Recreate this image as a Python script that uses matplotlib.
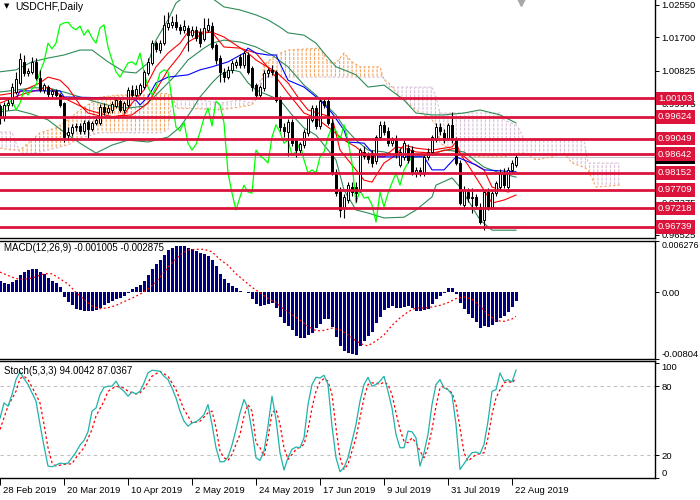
import matplotlib
matplotlib.use("Agg")
import matplotlib.pyplot as plt
import matplotlib.transforms as mtransforms
import numpy as np

plt.rcParams['font.family'] = ['Liberation Sans', 'DejaVu Sans']
plt.rcParams['hatch.linewidth'] = 0.8

# ---- dane: swiece USDCHF D1 (indeks slupka 0..129) ----
opens = [
    0.9990, 0.9959, 0.9993, 0.9998, 1.0027, 1.0050, 1.0106, 1.0077, 1.0080, 1.0106,
    1.0064, 1.0032, 1.0040, 1.0022, 1.0030, 1.0019, 0.9998, 0.9914, 0.9920, 0.9935,
    0.9938, 0.9925, 0.9948, 0.9930, 0.9946, 0.9946, 0.9988, 0.9975, 0.9980, 0.9990,
    1.0003, 0.9980, 0.9993, 1.0032, 1.0019, 1.0024, 1.0040, 1.0077, 1.0103, 1.0155,
    1.0137, 1.0155, 1.0197, 1.0203, 1.0210, 1.0197, 1.0190, 1.0195, 1.0176, 1.0190,
    1.0184, 1.0165, 1.0190, 1.0200, 1.0150, 1.0116, 1.0080, 1.0066, 1.0085, 1.0098,
    1.0119, 1.0098, 1.0124, 1.0090, 1.0045, 1.0019, 1.0038, 1.0077, 1.0085, 1.0080,
    1.0011, 0.9935, 0.9922, 0.9948, 0.9900, 0.9875, 0.9888, 0.9920, 0.9954, 0.9985,
    0.9938, 1.0003, 1.0003, 0.9946, 0.9818, 0.9770, 0.9723, 0.9744, 0.9778, 0.9778,
    0.9770, 0.9870, 0.9862, 0.9867, 0.9845, 0.9909, 0.9941, 0.9925, 0.9893, 0.9901,
    0.9836, 0.9857, 0.9880, 0.9875, 0.9815, 0.9823, 0.9815, 0.9857, 0.9870, 0.9901,
    0.9935, 0.9920, 0.9906, 0.9941, 0.9901, 0.9841, 0.9731, 0.9765, 0.9749, 0.9752,
    0.9726, 0.9692, 0.9765, 0.9726, 0.9762, 0.9778, 0.9815, 0.9778, 0.9823, 0.9836,
]
highs = [
    0.9996, 1.0001, 1.0011, 1.0050, 1.0080, 1.0130, 1.0124, 1.0090, 1.0119, 1.0116,
    1.0085, 1.0050, 1.0045, 1.0035, 1.0035, 1.0024, 1.0001, 0.9935, 0.9943, 0.9946,
    0.9946, 0.9954, 0.9954, 0.9951, 0.9959, 0.9996, 0.9998, 0.9993, 1.0003, 1.0014,
    1.0011, 1.0003, 1.0040, 1.0045, 1.0045, 1.0050, 1.0085, 1.0116, 1.0163, 1.0160,
    1.0163, 1.0229, 1.0237, 1.0225, 1.0232, 1.0205, 1.0215, 1.0203, 1.0200, 1.0200,
    1.0195, 1.0220, 1.0220, 1.0210, 1.0155, 1.0124, 1.0090, 1.0095, 1.0110, 1.0114,
    1.0127, 1.0135, 1.0132, 1.0095, 1.0050, 1.0045, 1.0085, 1.0090, 1.0098, 1.0085,
    1.0016, 0.9945, 0.9956, 0.9956, 0.9905, 0.9896, 0.9930, 0.9965, 0.9993, 0.9993,
    1.0014, 1.0011, 1.0014, 0.9955, 0.9825, 0.9778, 0.9760, 0.9790, 0.9790, 0.9790,
    0.9880, 0.9885, 0.9870, 0.9875, 0.9914, 0.9950, 0.9950, 0.9935, 0.9910, 0.9915,
    0.9880, 0.9900, 0.9890, 0.9885, 0.9830, 0.9830, 0.9865, 0.9880, 0.9915, 0.9946,
    0.9945, 0.9930, 0.9946, 0.9975, 0.9910, 0.9850, 0.9780, 0.9775, 0.9775, 0.9760,
    0.9735, 0.9770, 0.9775, 0.9770, 0.9795, 0.9825, 0.9828, 0.9830, 0.9850, 0.9865,
]
lows = [
    0.9943, 0.9952, 0.9980, 0.9990, 1.0022, 1.0045, 1.0070, 1.0070, 1.0075, 1.0058,
    1.0027, 1.0024, 1.0014, 1.0014, 1.0011, 0.9988, 0.9896, 0.9900, 0.9912, 0.9925,
    0.9917, 0.9917, 0.9906, 0.9925, 0.9941, 0.9941, 0.9967, 0.9970, 0.9972, 0.9985,
    0.9975, 0.9972, 0.9988, 1.0011, 1.0011, 1.0019, 1.0035, 1.0072, 1.0098, 1.0132,
    1.0129, 1.0150, 1.0190, 1.0195, 1.0190, 1.0180, 1.0182, 1.0135, 1.0170, 1.0160,
    1.0145, 1.0160, 1.0185, 1.0140, 1.0100, 1.0053, 1.0053, 1.0060, 1.0077, 1.0090,
    1.0090, 1.0090, 1.0074, 1.0030, 1.0008, 1.0011, 1.0030, 1.0066, 1.0072, 1.0000,
    0.9925, 0.9910, 0.9860, 0.9885, 0.9857, 0.9868, 0.9880, 0.9912, 0.9948, 0.9930,
    0.9930, 0.9985, 0.9940, 0.9810, 0.9755, 0.9700, 0.9697, 0.9736, 0.9755, 0.9740,
    0.9765, 0.9852, 0.9840, 0.9830, 0.9838, 0.9900, 0.9915, 0.9885, 0.9885, 0.9855,
    0.9830, 0.9850, 0.9840, 0.9810, 0.9805, 0.9808, 0.9808, 0.9850, 0.9862, 0.9895,
    0.9915, 0.9893, 0.9900, 0.9893, 0.9835, 0.9730, 0.9720, 0.9740, 0.9710, 0.9720,
    0.9680, 0.9665, 0.9718, 0.9720, 0.9755, 0.9770, 0.9775, 0.9770, 0.9815, 0.9830,
]
closes = [
    0.9959, 0.9993, 0.9998, 1.0040, 1.0060, 1.0114, 1.0077, 1.0082, 1.0106, 1.0064,
    1.0032, 1.0045, 1.0022, 1.0030, 1.0019, 0.9993, 0.9909, 0.9922, 0.9935, 0.9938,
    0.9925, 0.9946, 0.9930, 0.9946, 0.9954, 0.9988, 0.9975, 0.9985, 0.9996, 1.0006,
    0.9980, 0.9998, 1.0032, 1.0019, 1.0035, 1.0045, 1.0080, 1.0106, 1.0155, 1.0140,
    1.0155, 1.0203, 1.0208, 1.0210, 1.0197, 1.0190, 1.0200, 1.0176, 1.0190, 1.0169,
    1.0155, 1.0195, 1.0203, 1.0145, 1.0111, 1.0080, 1.0066, 1.0085, 1.0103, 1.0106,
    1.0098, 1.0129, 1.0080, 1.0040, 1.0019, 1.0040, 1.0077, 1.0085, 1.0080, 1.0006,
    0.9935, 0.9925, 0.9948, 0.9893, 0.9875, 0.9890, 0.9922, 0.9959, 0.9985, 0.9938,
    1.0003, 0.9993, 0.9946, 0.9815, 0.9762, 0.9718, 0.9752, 0.9783, 0.9765, 0.9762,
    0.9875, 0.9860, 0.9852, 0.9841, 0.9909, 0.9941, 0.9922, 0.9893, 0.9901, 0.9862,
    0.9870, 0.9893, 0.9849, 0.9815, 0.9823, 0.9815, 0.9857, 0.9870, 0.9909, 0.9935,
    0.9925, 0.9901, 0.9941, 0.9901, 0.9841, 0.9736, 0.9770, 0.9749, 0.9752, 0.9731,
    0.9686, 0.9765, 0.9726, 0.9762, 0.9789, 0.9815, 0.9783, 0.9823, 0.9841, 0.9857,
]

# wstegi Bollingera
bbUpperBars = [0, 4, 8, 12, 16, 20, 23, 27, 31, 34, 37, 39, 42, 44, 46, 50, 53, 56, 60, 64,
               67, 70, 72, 76, 79, 81, 84, 86, 89, 92, 96, 101, 104, 108, 111, 116, 120, 125, 129]
bbUpper = [1.0080, 1.0085, 1.0106, 1.0116, 1.0124, 1.0137, 1.0137, 1.0106, 1.0080, 1.0077,
           1.0103, 1.0163, 1.0216, 1.0260, 1.0276, 1.0281, 1.0273, 1.0250, 1.0242, 1.0229,
           1.0216, 1.0197, 1.0182, 1.0176, 1.0155, 1.0129, 1.0093, 1.0085, 1.0072, 1.0040,
           1.0045, 1.0006, 0.9972, 0.9967, 0.9967, 0.9972, 0.9980, 0.9967, 0.9946]
bbMiddleBars = [0, 4, 8, 12, 16, 20, 24, 28, 32, 36, 39, 44, 47, 51, 53, 56, 60, 64, 68, 72,
                76, 79, 81, 84, 86, 89, 92, 96, 101, 104, 108, 111, 116, 121, 125, 129]
bbMiddle = [1.0027, 1.0032, 1.0038, 1.0038, 1.0027, 1.0014, 1.0001, 0.9990, 0.9985, 0.9990,
            1.0019, 1.0072, 1.0111, 1.0142, 1.0155, 1.0163, 1.0158, 1.0145, 1.0124, 1.0093,
            1.0045, 1.0019, 0.9998, 0.9967, 0.9935, 0.9901, 0.9875, 0.9870, 0.9857, 0.9857,
            0.9862, 0.9875, 0.9870, 0.9830, 0.9815, 0.9804]
bbLowerBars = [0, 4, 8, 12, 16, 20, 24, 28, 32, 37, 42, 45, 48, 50, 53, 55, 58, 60, 62, 64,
               67, 70, 73, 76, 79, 81, 84, 86, 89, 92, 96, 101, 104, 108, 109, 113, 115, 120, 123, 129]
bbLower = [0.9975, 0.9980, 0.9969, 0.9954, 0.9922, 0.9893, 0.9867, 0.9888, 0.9901, 0.9896,
           0.9909, 0.9935, 0.9980, 1.0014, 1.0051, 1.0072, 1.0085, 1.0080, 1.0051, 1.0032,
           1.0019, 1.0006, 0.9967, 0.9933, 0.9914, 0.9888, 0.9849, 0.9770, 0.9718, 0.9710,
           0.9697, 0.9699, 0.9718, 0.9752, 0.9783, 0.9802, 0.9778, 0.9692, 0.9665, 0.9665]

# Ichimoku: Tenkan / druga czerwona / Kijun
redFastBars = [0, 5, 10, 12, 15, 17, 20, 22, 27, 31, 33, 36, 39, 42, 45, 47, 53, 56, 59, 62,
               64, 66, 69, 72, 75, 77, 81, 83, 85, 88, 91, 93, 96, 99, 101, 104, 108, 113, 114, 115,
               118, 121, 123, 127, 129]
redFast = [1.0019, 1.0027, 1.0051, 1.0066, 1.0058, 1.0038, 0.9993, 0.9972, 0.9959, 0.9967,
           0.9998, 1.0032, 1.0093, 1.0129, 1.0155, 1.0184, 1.0184, 1.0171, 1.0150, 1.0129,
           1.0111, 1.0098, 1.0080, 1.0051, 1.0006, 0.9980, 0.9967, 0.9962, 0.9875, 0.9836,
           0.9796, 0.9791, 0.9841, 0.9862, 0.9888, 0.9880, 0.9875, 0.9883, 0.9896, 0.9867,
           0.9841, 0.9823, 0.9778, 0.9765, 0.9770]
redSlowBars = [0, 5, 12, 17, 22, 28, 33, 37, 39, 42, 45, 47, 51, 53, 56, 60, 64, 69, 72, 76,
               79, 83, 86, 89, 92, 96, 99, 101, 104, 108, 114, 117, 121, 123, 126, 129]
redSlow = [0.9998, 1.0019, 1.0040, 1.0006, 0.9980, 0.9962, 0.9967, 0.9998, 1.0032, 1.0085,
           1.0124, 1.0158, 1.0182, 1.0184, 1.0145, 1.0142, 1.0129, 1.0066, 1.0024, 0.9972,
           0.9959, 0.9927, 0.9901, 0.9883, 0.9857, 0.9857, 0.9883, 0.9880, 0.9870, 0.9867,
           0.9880, 0.9836, 0.9770, 0.9736, 0.9744, 0.9757]
kijunBars = [0, 4, 5, 15, 16, 31, 34, 35, 37, 39, 42, 47, 50, 53, 57, 61, 62, 64, 67, 69,
             72, 76, 80, 83, 86, 87, 91, 94, 106, 108, 111, 114, 116, 119, 121, 129]
kijun = [1.0009, 1.0009, 1.0030, 1.0030, 1.0014, 1.0011, 1.0006, 0.9993, 1.0014, 1.0051,
         1.0066, 1.0072, 1.0085, 1.0093, 1.0106, 1.0129, 1.0142, 1.0129, 1.0124, 1.0124,
         1.0058, 1.0040, 1.0006, 0.9972, 0.9927, 0.9896, 0.9893, 0.9857, 0.9857, 0.9823,
         0.9823, 0.9857, 0.9849, 0.9836, 0.9823, 0.9818]

# chmura (przesunieta o 26 slupkow do przodu)
cloudBars = [0, 3, 5, 8, 10, 14, 17, 20, 25, 30, 36, 40, 42, 43, 44, 50, 55, 60, 63, 65,
             66, 69, 72, 80, 82, 84, 86, 88, 90, 95, 96, 97, 100, 104, 108, 109, 110, 115, 121, 125,
             126, 129, 130, 131, 134, 138, 141, 143, 146, 147, 149, 155]
spanA = [0.9880, 0.9875, 0.9875, 0.9901, 0.9920, 0.9933, 0.9954, 0.9980, 1.0014, 1.0019,
         1.0019, 1.0024, 1.0022, 1.0019, 0.9985, 0.9983, 0.9980, 0.9988, 0.9993, 1.0024,
         1.0098, 1.0124, 1.0137, 1.0142, 1.0106, 1.0103, 1.0129, 1.0106, 1.0093, 1.0093,
         1.0058, 1.0053, 1.0014, 0.9980, 0.9954, 0.9941, 0.9893, 0.9862, 0.9857, 0.9857,
         0.9857, 0.9867, 0.9867, 0.9867, 0.9849, 0.9857, 0.9867, 0.9841, 0.9830, 0.9823,
         0.9778, 0.9783]
spanB = [0.9922, 0.9922, 0.9867, 0.9867, 0.9870, 0.9880, 0.9888, 0.9906, 0.9920, 0.9920,
         0.9920, 0.9920, 0.9927, 1.0006, 1.0006, 1.0006, 0.9998, 1.0006, 0.9998, 1.0058,
         1.0066, 1.0066, 1.0066, 1.0066, 1.0066, 1.0066, 1.0066, 1.0066, 1.0066, 1.0066,
         1.0066, 1.0040, 1.0040, 1.0040, 1.0040, 1.0014, 0.9972, 0.9972, 0.9972, 0.9972,
         0.9954, 0.9941, 0.9927, 0.9901, 0.9901, 0.9901, 0.9901, 0.9901, 0.9901, 0.9841,
         0.9841, 0.9841]

levels = [1.00103, 0.99624, 0.99049, 0.98642, 0.98152, 0.97709, 0.97218, 0.96739]
priceTicks = [1.02550, 1.01700, 1.00825, 0.99975, 0.99100, 0.98250, 0.97375, 0.96525]

# MACD(12,26,9)
macdMain = [
    0.00144, 0.00111, 0.00103, 0.00123, 0.00152, 0.00205, 0.00246, 0.00267, 0.00283, 0.00283,
    0.00246, 0.00226, 0.00172, 0.00144, 0.00111, 0.00062, -0.00049, -0.00115, -0.00156, -0.00197,
    -0.00217, -0.00226, -0.00230, -0.00226, -0.00209, -0.00185, -0.00156, -0.00127, -0.00103, -0.00078,
    -0.00062, -0.00045, -0.00008, 0.00041, 0.00062, 0.00090, 0.00144, 0.00205, 0.00279, 0.00340,
    0.00398, 0.00451, 0.00513, 0.00537, 0.00562, 0.00566, 0.00566, 0.00541, 0.00521, 0.00504,
    0.00480, 0.00463, 0.00439, 0.00398, 0.00320, 0.00226, 0.00160, 0.00115, 0.00074, 0.00049,
    0.00012, 0.00008, -0.00004, -0.00082, -0.00144, -0.00164, -0.00152, -0.00144, -0.00131, -0.00185,
    -0.00295, -0.00369, -0.00402, -0.00451, -0.00529, -0.00554, -0.00554, -0.00513, -0.00492, -0.00431,
    -0.00381, -0.00320, -0.00320, -0.00418, -0.00541, -0.00652, -0.00709, -0.00726, -0.00746, -0.00750,
    -0.00652, -0.00590, -0.00525, -0.00480, -0.00365, -0.00295, -0.00217, -0.00185, -0.00160, -0.00185,
    -0.00193, -0.00176, -0.00160, -0.00193, -0.00221, -0.00230, -0.00217, -0.00197, -0.00144, -0.00074,
    -0.00041, -0.00012, 0.00049, 0.00049, -0.00021, -0.00131, -0.00197, -0.00258, -0.00308, -0.00357,
    -0.00431, -0.00402, -0.00418, -0.00398, -0.00353, -0.00308, -0.00279, -0.00234, -0.00172, -0.00101,
]
macdSignalBars = [0, 3, 5, 8, 11, 13, 15, 17, 19, 21, 23, 25, 27, 29, 31, 33, 35, 37, 39, 41,
                  43, 45, 47, 49, 51, 53, 55, 57, 59, 61, 63, 65, 67, 69, 71, 73, 75, 77, 79, 81,
                  83, 85, 87, 89, 91, 92, 94, 96, 98, 100, 102, 104, 106, 108, 110, 112, 114, 116, 118, 120,
                  122, 124, 126, 128, 129]
macdSignal = [0.00246, 0.00185, 0.00156, 0.00172, 0.00226, 0.00226, 0.00164, 0.00103, 0.0, -0.00082,
              -0.00164, -0.00197, -0.00185, -0.00156, -0.00111, -0.00070, -0.00021, 0.00041, 0.00123, 0.00246,
              0.00357, 0.00451, 0.00513, 0.00521, 0.00521, 0.00492, 0.00398, 0.00328, 0.00226, 0.00144,
              0.00062, -0.00005, -0.00074, -0.00123, -0.00205, -0.00267, -0.00336, -0.00410, -0.00463, -0.00459,
              -0.00431, -0.00451, -0.00513, -0.00586, -0.00636, -0.00644, -0.00586, -0.00513, -0.00398, -0.00308,
              -0.00234, -0.00185, -0.00189, -0.00176, -0.00156, -0.00123, -0.00074, -0.00053, -0.00082, -0.00164,
              -0.00267, -0.00340, -0.00349, -0.00320, -0.00288]

# Stochastic(5,3,3)
stochMain = [
    52, 65.5, 62.6, 72.7, 85.8, 92.5, 86.7, 81.5, 74.2, 67,
    46.7, 27.8, 10.4, 9.8, 11.3, 13, 12.4, 13, 17.7, 22.6,
    28.7, 32.7, 40.3, 58.3, 61, 72.7, 79, 80, 80, 84.4,
    78.5, 75.6, 71.3, 75, 73.3, 75.6, 82.9, 91.6, 93.9, 93.6,
    93, 88.7, 85.8, 78.5, 69.8, 58.3, 49.5, 45.2, 48, 49,
    51.6, 55.3, 64, 46.7, 26.4, 14.2, 14.2, 18.2, 28.7, 42.3,
    56.8, 68.4, 61, 40.9, 17.7, 15.3, 23.5, 45.2, 71.3, 51,
    22, 7, 17.7, 25, 27, 26.4, 35, 64, 81.5, 87.8,
    87.2, 89.6, 81.5, 45.2, 17.7, 5.5, 9, 17.7, 32.2, 46.7,
    67, 81.5, 87.8, 80, 81.5, 84.4, 88.7, 75.6, 61, 38,
    26.4, 26.4, 40.9, 40.3, 35, 10.4, 22, 38, 64, 81.5,
    85.8, 78.5, 77, 72.7, 46.7, 7.5, 12.4, 17.7, 22, 22.6,
    21.1, 29.3, 49.5, 75.6, 77, 91.6, 84.4, 85.8, 83.8, 94.0,
]
stochSignalBars = [0, 2, 4, 5, 6, 7, 9, 10, 11, 12, 13, 14, 16, 18, 19, 21, 23, 24, 26, 27,
                   29, 31, 32, 34, 35, 36, 38, 40, 42, 43, 44, 46, 47, 48, 50, 52, 53, 54, 55, 56,
                   57, 58, 60, 61, 62, 63, 64] + list(range(65, 130))
stochSignal = [42.3, 62.6, 75.6, 86.7, 88.7, 85.8, 72.7, 65.5, 46.7, 26.4,
               13.3, 10.4, 11.9, 12.4, 17.7, 26.4, 42.3, 54, 67, 75.6,
               80, 78.5, 75.6, 73.3, 74.2, 78, 88.7, 93, 88.7, 82.9,
               77, 59.7, 54, 48, 49.5, 56.8, 58.3, 43.8, 23.5, 17.7,
               15.3, 20.5, 38, 54, 64, 58.3, 30.7,
               26.4, 19.1, 35, 56.8, 59.7, 46.7, 26.4, 16.2, 20.5, 25,
               27, 29.3, 42.3, 61, 75.6, 83.8, 86.7, 84.4, 72.7, 43.8,
               17.7, 7.5, 11.9, 23.5, 35, 52.5, 69.8, 81.5, 82.9, 82.9,
               81.5, 83.8, 81.5, 72.7, 56.8, 42.3, 32.2, 30.7, 35, 30.7,
               23.5, 17.7, 26.4, 42.3, 62.6, 78.5, 80, 77, 74.2, 64,
               43.8, 22, 14.8, 17.7, 20.5, 21.1, 22, 35, 55.3, 69.8,
               77, 82.9, 84.4, 82.9, 87]

dateBars = [0, 16, 32, 48, 64, 80, 96, 112, 128]
dateLabels = ["28 Feb 2019", "20 Mar 2019", "10 Apr 2019", "2 May 2019", "24 May 2019",
              "17 Jun 2019", "9 Jul 2019", "31 Jul 2019", "22 Aug 2019"]

# ---- rysowanie ----
W, H = 700, 500
rozmiar = 6.8
fig = plt.figure(figsize=(7, 5), dpi=100)


def okno(gora, dol):
    return [0, 1 - dol / H, 655 / W, (dol - gora) / H]


ax = fig.add_axes(okno(0, 238))
axMacd = fig.add_axes(okno(240.5, 359))
axSt = fig.add_axes(okno(361, 478))

for a in (ax, axMacd, axSt):
    a.set_xlim(0, 163.75)
    a.spines['top'].set_visible(a is not ax)
    a.spines['left'].set_visible(False)
    for s in a.spines.values():
        s.set_linewidth(1.0)
        s.set_color('black')
    a.yaxis.tick_right()
    a.tick_params(axis='y', length=3, width=0.7, labelsize=rozmiar, pad=1.5, colors='black')
    a.tick_params(axis='x', length=0)
ax.set_xticks([])
axMacd.set_xticks([])

O = np.array(opens)
Hh = np.array(highs)
L = np.array(lows)
C = np.array(closes)
bars = np.arange(len(C))

ax.set_ylim(0.96445, 1.02681)

# chmura Ichimoku: kreskowanie pionowe, przerywane bialym kreskowaniem poziomym
cb = np.array(cloudBars)
sa = np.array(spanA)
sb = np.array(spanB)
ax.fill_between(cb, sa, sb, where=sa >= sb, interpolate=True, facecolor='none',
                edgecolor='#F4A460', hatch='||||', linewidth=0, zorder=1)
ax.fill_between(cb, sa, sb, where=sa < sb, interpolate=True, facecolor='none',
                edgecolor='#D8BFD8', hatch='||||', linewidth=0, zorder=1)
ax.fill_between(cb, sa, sb, facecolor='none', edgecolor='white', hatch='----',
                linewidth=0, zorder=1.1)
ax.plot(cb, sa, color='#F4A460', ls=(0, (2, 2)), lw=0.8, zorder=1.2)
ax.plot(cb, sb, color='#D8BFD8', ls=(0, (2, 2)), lw=0.8, zorder=1.2)

ax.axhline(C[-1], color='#C0C0C0', lw=0.7, zorder=0.5)

# Bollinger
for xs, ys in ((bbUpperBars, bbUpper), (bbMiddleBars, bbMiddle), (bbLowerBars, bbLower)):
    ax.plot(xs, ys, color='#2E8B57', lw=0.8, zorder=2)

ax.plot(redSlowBars, redSlow, color='red', lw=0.8, zorder=3)
ax.plot(redFastBars, redFast, color='red', lw=0.8, zorder=3)
ax.plot(kijunBars, kijun, color='blue', lw=0.8, zorder=3)
# Chikou = zamkniecia przesuniete o 26 slupkow wstecz
ax.plot(bars[:-26], C[26:], color='#00FF00', lw=0.9, zorder=3)

# swiece
up = C >= O
ax.vlines(bars, L, Hh, color='black', lw=0.8, zorder=4)
ax.bar(bars[up], (C - O)[up], bottom=O[up], width=0.7, facecolor='white',
       edgecolor='black', linewidth=0.7, zorder=5)
ax.bar(bars[~up], (C - O)[~up], bottom=O[~up], width=0.7, facecolor='black',
       edgecolor='black', linewidth=0.7, zorder=5)

for lv in levels:
    ax.axhline(lv, color='#DC143C', lw=2.0, zorder=6)

ax.set_yticks(priceTicks)
ax.set_yticklabels([f"{v:.5f}" for v in priceTicks])

tr = mtransforms.blended_transform_factory(ax.transAxes, ax.transData)
ax.text(1 + 3 / 655, C[-1], "0.98566", transform=tr, ha='left', va='center', color='white',
        fontsize=rozmiar, bbox=dict(boxstyle='square,pad=0.25', fc='black', ec='none'),
        zorder=9, clip_on=False)
for lv in levels:
    ax.text(1 + 3 / 655, lv, f"{lv:.5f}", transform=tr, ha='left', va='center', color='white',
            fontsize=rozmiar, bbox=dict(boxstyle='square,pad=0.25', fc='#DC143C', ec='none'),
            zorder=10, clip_on=False)

ax.plot([130.3], [1.0264], marker='v', color='#A8A8A8', ms=6, clip_on=False, zorder=8)

fig.text(4 / W, 1 - 6 / H, "▼", fontsize=5, va='center', family='DejaVu Sans')
fig.text(15 / W, 1 - 7 / H, "USDCHF,Daily", fontsize=7.5, va='center')

# MACD
axMacd.set_ylim(-0.00804, 0.006276)
axMacd.bar(bars, macdMain, width=0.75, color='#000080', zorder=2)
axMacd.plot(macdSignalBars, macdSignal, color='red', ls=(0, (1.5, 2)), lw=0.9, zorder=3)
axMacd.set_yticks([0.006276, 0.0, -0.00804])
axMacd.set_yticklabels(["0.006276", "0.00", "-0.00804"])
mLab = axMacd.get_yticklabels()
mLab[0].set_va('top')
mLab[0].set_fontsize(6.4)
mLab[2].set_va('bottom')
axMacd.text(4 / 655, 0.937, "MACD(12,26,9) -0.001005 -0.002875", transform=axMacd.transAxes,
            va='center', ha='left', fontsize=7)

# Stochastic
axSt.set_ylim(0.3, 102.0)
axSt.axhline(80, color='#C0C0C0', ls=(0, (3, 3)), lw=0.8, zorder=1)
axSt.axhline(20, color='#C0C0C0', ls=(0, (3, 3)), lw=0.8, zorder=1)
axSt.plot(bars, stochMain, color='#20B2AA', lw=0.9, zorder=3)
axSt.plot(stochSignalBars, stochSignal, color='red', ls=(0, (2, 2)), lw=0.9, zorder=2)
axSt.set_yticks([100, 80, 20, 0])
axSt.set_yticklabels(["100", "80", "20", "0"])
sLab = axSt.get_yticklabels()
sLab[0].set_va('top')
sLab[3].set_va('bottom')
axSt.text(4 / 655, 0.915, "Stoch(5,3,3) 94.0042 87.0367", transform=axSt.transAxes,
          va='center', ha='left', fontsize=7)

axSt.set_xticks(dateBars)
axSt.set_xticklabels(dateLabels)
axSt.tick_params(axis='x', length=5, width=0.7, labelsize=rozmiar, pad=0.5, direction='out')
przes = mtransforms.ScaledTranslation(3 / 100, 0, fig.dpi_scale_trans)
for lbl in axSt.get_xticklabels():
    lbl.set_ha('left')
    lbl.set_transform(lbl.get_transform() + przes)

fig.savefig("out.png", dpi=100)
